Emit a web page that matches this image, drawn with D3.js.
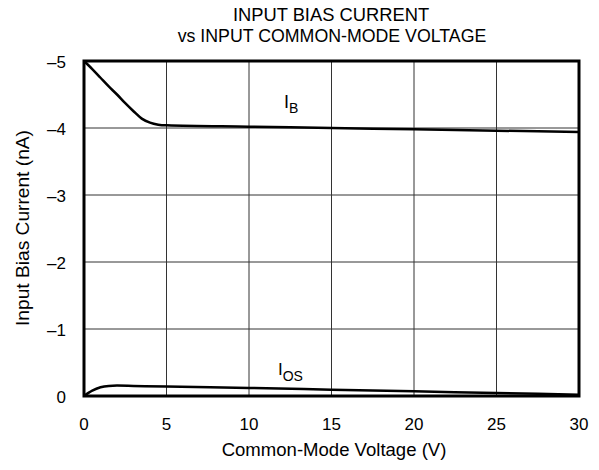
<!DOCTYPE html>
<html><head><meta charset="utf-8">
<script src="https://cdn.jsdelivr.net/npm/d3@7"></script>
<style>body{margin:0;background:#fff}svg{display:block}text{font-family:"Liberation Sans",Arial,sans-serif;fill:#000}</style>
</head><body><svg id="c" width="599" height="470"></svg>
<script>
const xTicks=[0,5,10,15,20,25,30];
const yTicks=[0,-1,-2,-3,-4,-5];
const ibV=[0,0.5,1,1.5,2,2.5,3,3.5,4,4.5,5,10,15,20,25,30];
const ibI=[-5,-4.88,-4.75,-4.62,-4.5,-4.37,-4.25,-4.14,-4.08,-4.05,-4.04,-4.02,-4.0,-3.98,-3.96,-3.94];
const iosV=[0,0.5,1,1.5,2,3,5,10,15,20,25,30];
const iosI=[0,-0.08,-0.13,-0.15,-0.155,-0.15,-0.14,-0.12,-0.095,-0.07,-0.045,-0.02];

const svg=d3.select("#c");
const L=84,R=579,T=61,B=396;
const x=d3.scaleLinear().domain([0,30]).range([L,R]);
const y=d3.scaleLinear().domain([0,-5]).range([B,T]);

svg.append("g").selectAll("line").data(xTicks.slice(1,-1)).join("line")
 .attr("x1",d=>x(d)).attr("x2",d=>x(d)).attr("y1",T).attr("y2",B)
 .attr("stroke","#333").attr("stroke-width",1);
svg.append("g").selectAll("line").data(yTicks.slice(1,-1)).join("line")
 .attr("y1",d=>y(d)).attr("y2",d=>y(d)).attr("x1",L).attr("x2",R)
 .attr("stroke","#333").attr("stroke-width",1);

const line=d3.line().x(d=>x(d[0])).y(d=>y(d[1])).curve(d3.curveMonotoneX);
svg.append("path").attr("d",line(ibV.map((v,i)=>[v,ibI[i]]))).attr("fill","none").attr("stroke","#000").attr("stroke-width",2.5);
svg.append("path").attr("d",line(iosV.map((v,i)=>[v,iosI[i]]))).attr("fill","none").attr("stroke","#000").attr("stroke-width",2.5);

svg.append("rect").attr("x",L).attr("y",T).attr("width",R-L).attr("height",B-T)
 .attr("fill","none").attr("stroke","#000").attr("stroke-width",3);

const fmt=d=>d<0?"\u2013"+Math.abs(d):String(d);
svg.append("g").selectAll("text").data(xTicks).join("text")
 .attr("x",d=>x(d)).attr("y",430).attr("text-anchor","middle").attr("font-size",17).text(d=>d);
svg.append("g").selectAll("text").data(yTicks).join("text")
 .attr("x",66).attr("y",d=>y(d)+7).attr("text-anchor","end").attr("font-size",17).text(fmt);

function fit(sel,target){
  sel.attr("font-size",14);
  const w=sel.node().getBBox().width;
  sel.attr("font-size",14*target/w);
  return sel;
}
fit(svg.append("text").attr("x",334).attr("y",456).attr("text-anchor","middle").text("Common-Mode Voltage (V)"),225);
fit(svg.append("text").attr("transform","translate(29,228) rotate(-90)").attr("text-anchor","middle").text("Input Bias Current (nA)"),196);
fit(svg.append("text").attr("x",331).attr("y",20.5).attr("text-anchor","middle").text("INPUT BIAS CURRENT"),197);
fit(svg.append("text").attr("x",332).attr("y",42).attr("text-anchor","middle").text("vs INPUT COMMON-MODE VOLTAGE"),309);

const ib=svg.append("text").attr("x",284).attr("y",108).attr("font-size",18);
ib.append("tspan").text("I");
ib.append("tspan").attr("dy",5).attr("font-size",14).text("B");
const ios=svg.append("text").attr("x",278).attr("y",375).attr("font-size",17);
ios.append("tspan").text("I");
ios.append("tspan").attr("dy",6).attr("font-size",14).text("OS");
</script></body></html>
